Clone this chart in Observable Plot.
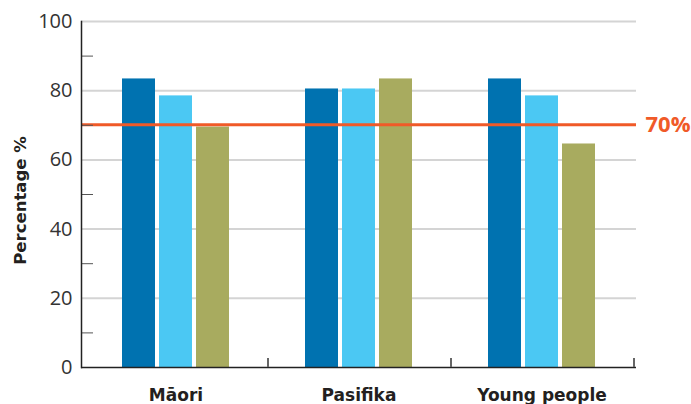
<!DOCTYPE html>
<html>
<head>
<meta charset="utf-8">
<script src="https://cdn.jsdelivr.net/npm/d3@7"></script>
<script src="https://cdn.jsdelivr.net/npm/@observablehq/plot@0.6"></script>
<style>
  html, body { margin: 0; padding: 0; background: #fff; }
  #chart svg { display: block; }
</style>
</head>
<body>
<div id="chart"></div>
<script>
// ---- data ----
const groups = ["Māori", "Pasifika", "Young people"];
const seriesNames = ["Series 1", "Series 2", "Series 3"];
const series1 = [83.4, 80.5, 83.4];
const series2 = [78.5, 80.5, 78.5];
const series3 = [69.5, 83.4, 64.6];
const target = 70;
const yTicks = [0, 20, 40, 60, 80, 100];
const minorTicks = [10, 30, 50, 70, 90];
const yLabel = "Percentage %";

// ---- styles ----
const colors = ["#0072b0", "#4bc8f3", "#a8ab5f"];
const red = "#f05a28";
const font = "'Open Sans', sans-serif";
const boldFont = "'DejaVu Sans', sans-serif";

const seriesValues = [series1, series2, series3];
const rows = [];
seriesValues.forEach((vals, k) => {
  groups.forEach((g, i) => rows.push({group: g, series: seriesNames[k], k, value: vals[i]}));
});

const barStep = 37;
const barMarks = seriesNames.map((s, k) =>
  Plot.barY(rows.filter(d => d.k === k), {
    x: "group", y: "value", fill: colors[k],
    insetLeft: k * barStep, insetRight: (2 - k) * barStep
  })
);

const chart = Plot.plot({
  width: 691,
  height: 404,
  marginTop: 21,
  marginBottom: 37,
  marginLeft: 81,
  marginRight: 55,
  style: {fontFamily: font, color: "#231f20", background: "#fff"},
  x: {type: "band", domain: groups, paddingInner: 0.417, paddingOuter: 0.221, axis: null},
  y: {domain: [0, 100], axis: null},
  marks: [
    Plot.ruleY(yTicks.filter(d => d > 0), {stroke: "#d4d4d4", strokeWidth: 2}),
    ...barMarks,
    Plot.ruleY([target], {stroke: red, strokeWidth: 3, dy: -0.5}),
    Plot.text([target], {y: d => d, text: d => d + "%", frameAnchor: "right", textAnchor: "start",
      dx: 9, fill: red, fontWeight: "bold", fontSize: 22}),
    Plot.axisY({ticks: minorTicks, tickSize: -12, tickFormat: () => "", stroke: "#555", label: null}),
    Plot.axisY({ticks: yTicks, tickSize: 0, tickPadding: 9, fontSize: 20, fill: "#333", label: null}),
    Plot.frame({anchor: "left", stroke: "#222", strokeWidth: 1.5}),
    Plot.ruleY([0], {stroke: "#222", strokeWidth: 1.5}),
    Plot.ruleX(groups, {x: d => d, dx: 92, y1: 0, y2: 2.6, stroke: "#666", strokeWidth: 2}),
    Plot.axisX({tickSize: 0, tickPadding: 21, fontSize: 17, fontWeight: "bold", fontFamily: boldFont,
      fill: "#231f20", label: null}),
    Plot.text([yLabel], {frameAnchor: "left", textAnchor: "middle", dx: -61, dy: 6, rotate: -90,
      text: d => d, fontWeight: "bold", fontSize: 16.5, fontFamily: boldFont, fill: "#231f20"})
  ]
});
document.getElementById("chart").appendChild(chart);
</script>
</body>
</html>
